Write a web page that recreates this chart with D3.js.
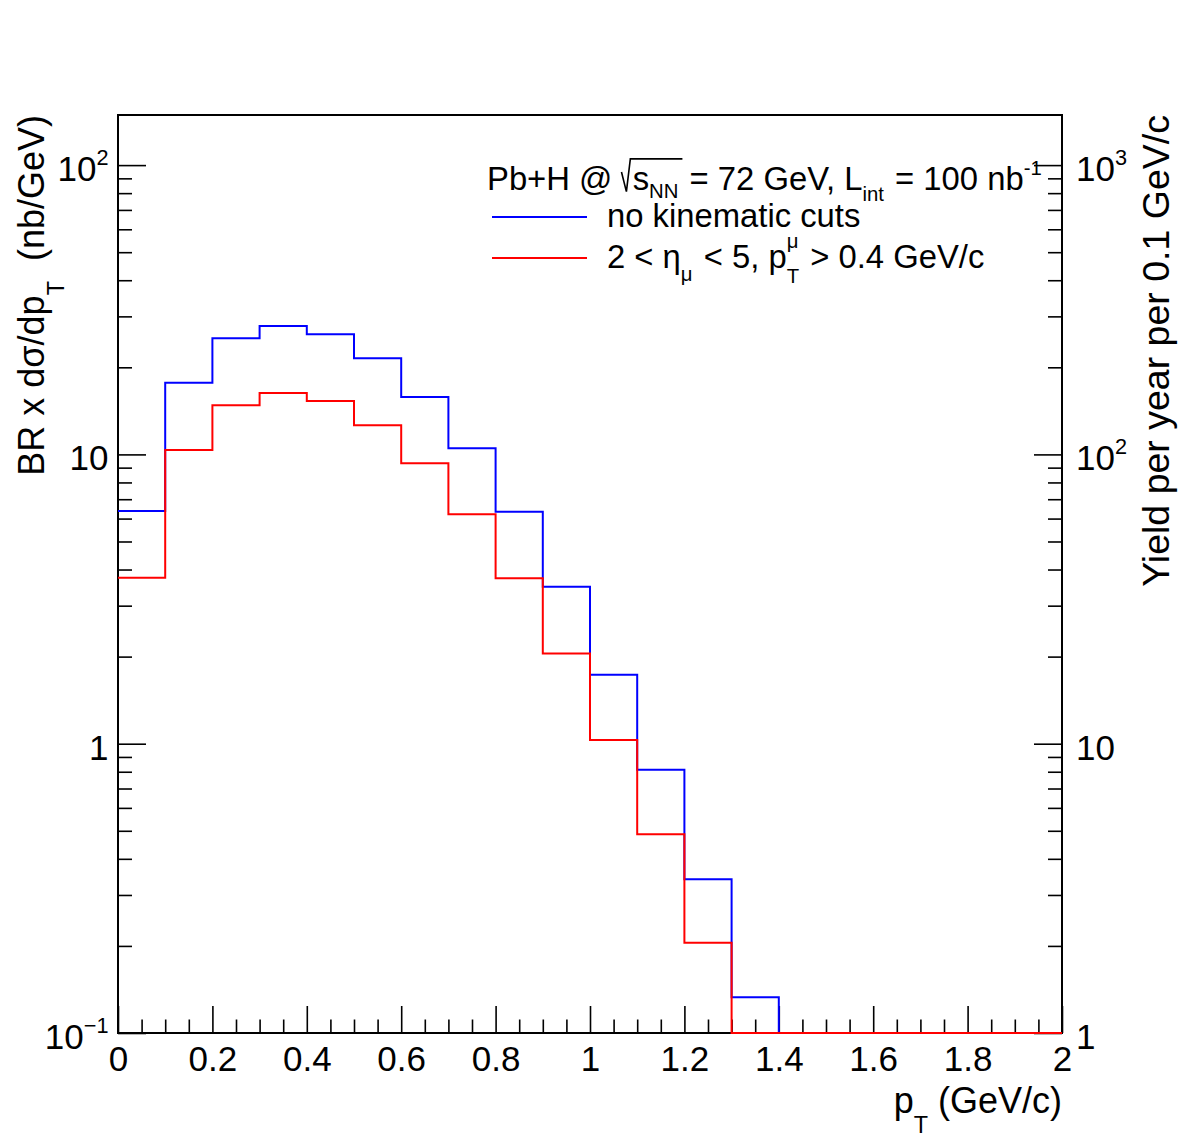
<!DOCTYPE html>
<html>
<head>
<meta charset="utf-8">
<script src="https://cdn.jsdelivr.net/npm/d3@7"></script>
<style>
  body { margin: 0; background: #fff; }
  text { font-family: "Liberation Sans", Arial, Helvetica, sans-serif; fill: #000; white-space: pre; }
</style>
</head>
<body>
<svg id="canvas" width="1182" height="1148"></svg>
<script>
// pT bins, 0 - 2 GeV/c in steps of 0.1
const binEdges = d3.range(0, 21).map(i => i / 10)

// BR x dsigma/dpT (nb/GeV)
const noCuts = [6.37, 17.7, 25.2, 27.8, 26.0, 21.5, 15.8, 10.5, 6.34, 3.49,
                1.73, 0.813, 0.340, 0.133, 0, 0, 0, 0, 0, 0]
const withCuts = [3.75, 10.35, 14.8, 16.3, 15.3, 12.6, 9.32, 6.21, 3.73, 2.05,
                  1.03, 0.486, 0.205, 0, 0, 0, 0, 0, 0, 0]

const xTicks = [0, 0.2, 0.4, 0.6, 0.8, 1, 1.2, 1.4, 1.6, 1.8, 2]
const yTicksLeft = [0.1, 1, 10, 100]
const yTicksRight = [1, 10, 100, 1000]
const yMin = 0.1
const yMax = 149
const yieldFactor = 10   // 100 nb^-1 x 0.1 GeV bin

const canvas = d3.select("#canvas")

const fx = { left: 118, right: 1062, top: 115, bottom: 1033 }

const x = d3.scaleLinear().domain([0, 2]).range([fx.left, fx.right])
const y = d3.scaleLog().domain([yMin, yMax]).range([fx.bottom, fx.top]).clamp(true)
const yR = d3.scaleLog().domain([yMin * yieldFactor, yMax * yieldFactor]).range([fx.bottom, fx.top])

// text made of pieces: sub/superscripts, stacked indices, sqrt sign
const rich = (parent, px, py, parts, size, anchor, rot) => {
  const g = parent.append("g")
  const inner = g.append("g")
  let cx = 0
  let holdW = 0
  let sq = null
  parts.forEach(p => {
    if (p.sqrt) {
      sq = { x0: cx, n: p.n }
      cx += 0.34 * size
      return
    }
    const fs = size * (p.s || 1)
    const t = inner.append("text")
                   .attr("x", cx)
                   .attr("y", (p.dy || 0) * size)
                   .style("font-size", fs + "px")
                   .text(p.t)
    const w = t.node().getComputedTextLength()
    if (p.hold) {
      holdW = w
    } else {
      cx += Math.max(w, holdW) + (p.gap || 0)
      holdW = 0
    }
    if (sq) {
      sq.n -= 1
      if (sq.n === 0) {
        const x0 = sq.x0
        inner.append("path")
             .attr("d", `M${x0},${-0.55 * size} L${x0 + 0.15 * size},${0.05 * size} L${x0 + 0.27 * size},${-0.95 * size} L${cx + 2},${-0.95 * size}`)
             .attr("fill", "none")
             .attr("stroke", "#000")
             .attr("stroke-width", 1.6)
        sq = null
      }
    }
  })
  const shift = anchor === "end" ? cx : anchor === "middle" ? cx / 2 : 0
  g.attr("transform", `translate(${px},${py}) rotate(${rot || 0})`)
  inner.attr("transform", `translate(${-shift},0)`)
  return g
}

const logMinor = (lo, hi) => {
  const out = []
  for (let e = Math.floor(Math.log10(lo)); e <= Math.ceil(Math.log10(hi)); e++) {
    for (let m = 2; m <= 9; m++) {
      const v = m * Math.pow(10, e)
      if (v > lo && v < hi) out.push(v)
    }
  }
  return out
}

const styleTicks = (g) => {
  g.select(".domain").remove()
  g.selectAll("line").attr("stroke", "#000").attr("stroke-width", 1.6)
}

// x axis ticks
const xMinor = d3.range(0, 41).map(i => i * 0.05).filter(v => Math.round(v * 100) % 20 !== 0)
canvas.append("g")
      .attr("transform", `translate(0,${fx.bottom})`)
      .call(d3.axisBottom(x).tickValues(xMinor).tickSize(-13.5).tickFormat(""))
      .call(styleTicks)
const xAxis = canvas.append("g")
      .attr("transform", `translate(0,${fx.bottom})`)
      .call(d3.axisBottom(x).tickValues(xTicks).tickSize(-27).tickPadding(13).tickFormat(d3.format("~g")))
      .call(styleTicks)
xAxis.attr("font-family", null).attr("font-size", null)
xAxis.selectAll("text").style("font-size", "35px")

// left y axis ticks
canvas.append("g")
      .attr("transform", `translate(${fx.left},0)`)
      .call(d3.axisLeft(y).tickValues(logMinor(yMin, yMax)).tickSize(-14).tickFormat(""))
      .call(styleTicks)
canvas.append("g")
      .attr("transform", `translate(${fx.left},0)`)
      .call(d3.axisLeft(y).tickValues(yTicksLeft).tickSize(-28).tickFormat(""))
      .call(styleTicks)

// right y axis ticks
canvas.append("g")
      .attr("transform", `translate(${fx.right},0)`)
      .call(d3.axisRight(yR).tickValues(logMinor(yMin * yieldFactor, yMax * yieldFactor)).tickSize(-14).tickFormat(""))
      .call(styleTicks)
canvas.append("g")
      .attr("transform", `translate(${fx.right},0)`)
      .call(d3.axisRight(yR).tickValues(yTicksRight).tickSize(-28).tickFormat(""))
      .call(styleTicks)

// power-of-ten labels
const powParts = (v) => {
  const e = Math.round(Math.log10(v))
  if (e === 0) return [{ t: "1" }]
  if (e === 1) return [{ t: "10" }]
  return [{ t: "10" }, { t: e < 0 ? "\u2212" + (-e) : String(e), s: 0.62, dy: -0.47 }]
}
yTicksLeft.forEach(v => rich(canvas, 108.5, y(v) + 16, powParts(v), 35, "end"))
yTicksRight.forEach(v => rich(canvas, 1076, yR(v) + 16, powParts(v), 35, "start"))

// frame
canvas.append("rect")
      .attr("x", fx.left)
      .attr("y", fx.top)
      .attr("width", fx.right - fx.left)
      .attr("height", fx.bottom - fx.top)
      .attr("fill", "none")
      .attr("stroke", "#000")
      .attr("stroke-width", 2)

// histograms
const histLine = d3.line()
                   .x(d => x(d[0]))
                   .y(d => y(Math.max(d[1], yMin)))
                   .curve(d3.curveStepAfter)
const histPoints = (vals) => binEdges.map((e, i) => [e, vals[Math.min(i, vals.length - 1)]])

canvas.append("path")
      .attr("d", histLine(histPoints(noCuts)))
      .attr("fill", "none")
      .attr("stroke", "#0000ff")
      .attr("stroke-width", 2)
canvas.append("path")
      .attr("d", histLine(histPoints(withCuts)))
      .attr("fill", "none")
      .attr("stroke", "#ff0000")
      .attr("stroke-width", 2)

// axis titles
rich(canvas, fx.right, 1113, [{ t: "p" }, { t: "T", s: 0.65, dy: 0.55 }, { t: " (GeV/c)" }], 36, "end")
rich(canvas, 44, fx.top, [{ t: "BR x d\u03c3/dp" }, { t: "T", s: 0.65, dy: 0.55 }, { t: "  (nb/GeV)" }], 36, "end", -90)
rich(canvas, 1169, fx.top, [{ t: "Yield per year per 0.1 GeV/c" }], 37.5, "end", -90)

// legend
const legend = canvas.append("g")
rich(legend, 487, 190, [
  { t: "Pb+H @ " },
  { sqrt: true, n: 2 },
  { t: "s" }, { t: "NN", s: 0.62, dy: 0.25, gap: 2 },
  { t: " = 72 GeV, L" }, { t: "int", s: 0.62, dy: 0.35, gap: 2 },
  { t: " = 100 nb" }, { t: "-1", s: 0.62, dy: -0.45 }
], 32.8, "start")

const entries = [
  { color: "#0000ff", ly: 217, parts: [{ t: "no kinematic cuts" }] },
  { color: "#ff0000", ly: 258, parts: [
      { t: "2 < \u03b7" }, { t: "\u03bc", s: 0.62, dy: 0.4, gap: 2 },
      { t: " < 5, p" }, { t: "\u03bc", s: 0.62, dy: -0.62, hold: true }, { t: "T", s: 0.62, dy: 0.45, gap: 2 },
      { t: " > 0.4 GeV/c" }
    ] }
]
entries.forEach(en => {
  legend.append("line")
        .attr("x1", 492).attr("x2", 587)
        .attr("y1", en.ly).attr("y2", en.ly)
        .attr("stroke", en.color)
        .attr("stroke-width", 2)
  rich(legend, 607, en.ly + 10, en.parts, 32.8, "start")
})
</script>
</body>
</html>
